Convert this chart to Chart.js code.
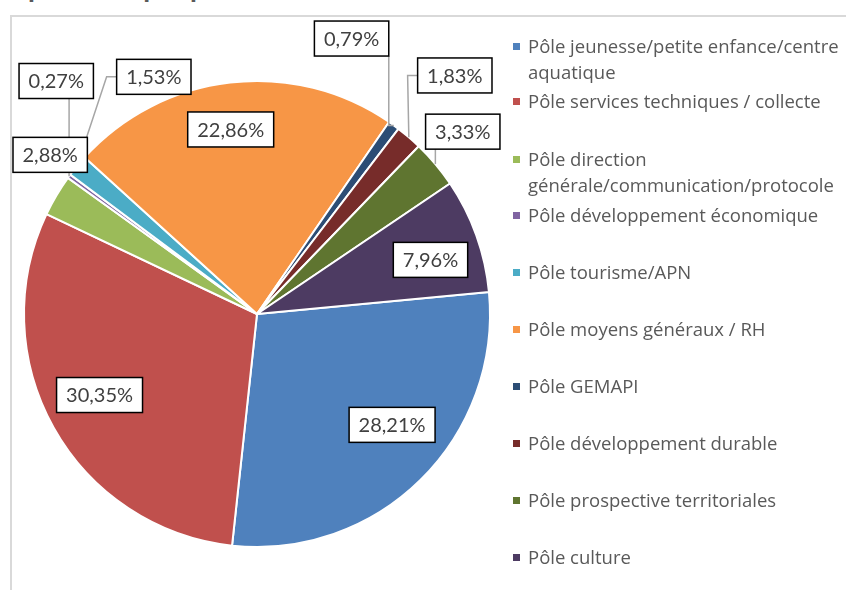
<!DOCTYPE html>
<html>
<head>
<meta charset="utf-8">
<script src="https://cdn.jsdelivr.net/npm/chart.js@4.4.0/dist/chart.umd.min.js"></script>
<style>
  body { margin: 0; width: 846px; height: 590px; overflow: hidden; background: #fff; font-family: Lato, sans-serif; }
  #frame { position: absolute; left: 10px; top: 15px; width: 900px; height: 700px; border: 2px solid #d9d9d9; }
  #title { position: absolute; left: -4px; top: -31px; font: bold 28px Lato, sans-serif; color: #595959; white-space: nowrap; }
  #wrap { position: absolute; left: 0; top: 0; width: 846px; height: 590px; }
  #legend { position: absolute; left: 513px; top: 0; }
  .item { position: absolute; left: 0; width: 340px; padding-left: 15px; font-family: 'Open Sans', sans-serif; font-size: 18.5px; line-height: 26px; color: #595959; }
  .item i { position: absolute; left: 0; top: 10px; width: 7px; height: 7px; }
</style>
</head>
<body>
<div id="title">Répartition par pôle</div>
<div id="frame"></div>
<div id="wrap"><canvas id="chart-area" width="846" height="590"></canvas></div>
<div id="legend"></div>
<script>
var categories = [
    'Pôle jeunesse/petite enfance/centre aquatique',
    'Pôle services techniques / collecte',
    'Pôle direction générale/communication/protocole',
    'Pôle développement économique',
    'Pôle tourisme/APN',
    'Pôle moyens généraux / RH',
    'Pôle GEMAPI',
    'Pôle développement durable',
    'Pôle prospective territoriales',
    'Pôle culture'
];
var shares = [28.21, 30.35, 2.88, 0.27, 1.53, 22.86, 0.79, 1.83, 3.33, 7.96];
var colors = ['#4f81bd', '#c0504d', '#9bbb59', '#8064a2', '#4bacc6',
              '#f79646', '#2c4d75', '#772c2a', '#5f7530', '#4d3b62'];

// label placement: [radius factor, angle offset in degrees, draw leader line]
var labelPlace = [
    [0.75, -6, false], [0.76, 2, false], [1.12, 7, false], [1.32, 13, true], [1.11, 27, true],
    [0.80, -1.5, false], [1.25, -17, true], [1.33, -1, true], [1.18, -1.5, true], [0.78, 2.4, false]
];

// legend, first line centre of each item
var legendTops = [46, 101, 159, 215, 272, 329, 386, 443, 500, 557];
var legend = document.getElementById('legend');
for (var i = 0; i < categories.length; i++) {
    var item = document.createElement('div');
    item.className = 'item';
    item.style.top = (legendTops[i] - 13) + 'px';
    item.innerHTML = "<i style='background:" + colors[i] + "'></i>" + categories[i];
    legend.appendChild(item);
}

function fmt(v) {
    return v.toFixed(2).replace('.', ',') + '%';
}

var boxLabels = {
    id: 'boxLabels',
    afterDatasetsDraw: function(chart) {
        var ctx = chart.ctx;
        var arcs = chart.getDatasetMeta(0).data;
        var boxes = [];
        ctx.save();
        ctx.font = '20px Lato, sans-serif';
        arcs.forEach(function(arc, i) {
            var p = arc.getProps(['x', 'y', 'startAngle', 'endAngle', 'outerRadius'], true);
            var mid = (p.startAngle + p.endAngle) / 2;
            var a = mid + labelPlace[i][1] * Math.PI / 180;
            var r = p.outerRadius * labelPlace[i][0];
            var cx = p.x + Math.cos(a) * r;
            var cy = p.y + Math.sin(a) * r;
            var text = fmt(shares[i]);
            var w = ctx.measureText(text).width + 19;
            var h = 35;
            var b = { text: text, x: cx - w / 2, y: cy - h / 2, w: w, h: h, cy: cy };
            boxes.push(b);
            if (labelPlace[i][2]) {
                var px = p.x + Math.cos(mid) * p.outerRadius;
                var py = p.y + Math.sin(mid) * p.outerRadius;
                ctx.strokeStyle = '#a6a6a6';
                ctx.lineWidth = 1.5;
                ctx.beginPath();
                if (px >= b.x - 8 && px <= b.x + w + 8) {
                    var lx = Math.min(Math.max(px, b.x), b.x + w);
                    ctx.moveTo(lx, b.y + h);
                    ctx.lineTo(lx, py);
                } else if (px < b.x) {
                    ctx.moveTo(b.x, cy);
                    ctx.lineTo(b.x - 10, cy);
                } else {
                    ctx.moveTo(b.x + w, cy);
                    ctx.lineTo(b.x + w + 10, cy);
                }
                ctx.lineTo(px, py);
                ctx.stroke();
            }
        });
        boxes.forEach(function(b) {
            ctx.fillStyle = '#fff';
            ctx.fillRect(b.x, b.y, b.w, b.h);
            ctx.strokeStyle = '#000';
            ctx.lineWidth = 1.5;
            ctx.strokeRect(b.x, b.y, b.w, b.h);
            ctx.fillStyle = '#404040';
            ctx.textAlign = 'center';
            ctx.textBaseline = 'middle';
            ctx.fillText(b.text, b.x + b.w / 2, b.cy + 1);
        });
        ctx.restore();
    }
};

var config = {
    type: 'pie',
    data: {
        labels: categories,
        datasets: [{
            data: shares,
            backgroundColor: colors,
            borderColor: '#fff',
            borderWidth: 2
        }]
    },
    options: {
        responsive: false,
        animation: false,
        rotation: 84.6,
        layout: { padding: { left: 23, top: 80, right: 355, bottom: 42 } },
        plugins: {
            legend: { display: false },
            tooltip: { enabled: false }
        }
    },
    plugins: [boxLabels]
};

var ctx = document.getElementById('chart-area').getContext('2d');
window.sharesChart = new Chart(ctx, config);
</script>
</body>
</html>
